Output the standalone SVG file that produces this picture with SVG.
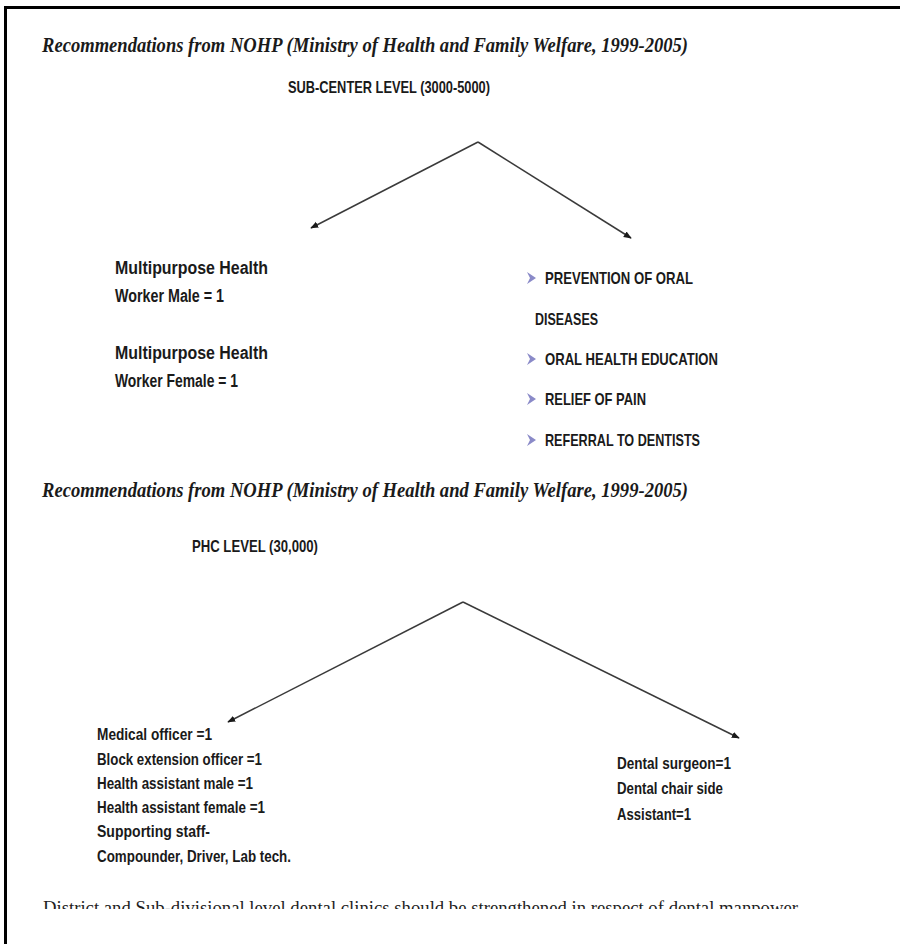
<svg xmlns="http://www.w3.org/2000/svg" width="900" height="944" viewBox="0 0 900 944">
  <style>
    .title { font-family: "Liberation Serif", "Times New Roman", serif; font-style: italic; font-weight: bold; font-size: 21px; fill: #1a1a1a; }
    .lbl { font-family: "Liberation Sans", Arial, sans-serif; font-weight: bold; font-size: 16.5px; fill: #1a1a1a; }
    .big { font-size: 18px; }
    .body { font-family: "Liberation Serif", "Times New Roman", serif; font-size: 18px; fill: #1e1e1e; }
    .conn { stroke: #3a3a3a; stroke-width: 1.5; fill: none; marker-end: url(#tip); }
    .bullet { fill: #8a8ac8; }
  </style>
  <defs>
    <marker id="tip" viewBox="0 0 10 10" refX="9" refY="5" markerWidth="8" markerHeight="8" orient="auto" markerUnits="userSpaceOnUse">
      <path d="M0,1 L10,5 L0,9 Z" fill="#1a1a1a"/>
    </marker>
    <path id="chev" d="M0,0 L9,6 L0,12 L3,6 Z"/>
    <clipPath id="pageClip">
      <rect x="0" y="0" width="900" height="909"/>
    </clipPath>
  </defs>

  <rect width="900" height="944" fill="#ffffff"/>

  <!-- page frame: top and left edges -->
  <path d="M5.5,944 L5.5,7.5 L900,7.5" stroke="#000" stroke-width="3" fill="none"/>

  <!-- sub-center section -->
  <g id="title-subcenter">
    <text class="title" x="42" y="52" textLength="646" lengthAdjust="spacingAndGlyphs">Recommendations from NOHP (Ministry of Health and Family Welfare, 1999-2005)</text>
  </g>
  <g id="node-subcenter">
    <text class="lbl" x="288" y="93" textLength="202" lengthAdjust="spacingAndGlyphs">SUB-CENTER LEVEL (3000-5000)</text>
  </g>
  <g id="node-mph-workers">
    <text class="lbl big" x="115" y="274" textLength="153" lengthAdjust="spacingAndGlyphs">Multipurpose Health</text>
    <text class="lbl big" x="115" y="302" textLength="109" lengthAdjust="spacingAndGlyphs">Worker Male = 1</text>
    <text class="lbl big" x="115" y="359" textLength="153" lengthAdjust="spacingAndGlyphs">Multipurpose Health</text>
    <text class="lbl big" x="115" y="387" textLength="123" lengthAdjust="spacingAndGlyphs">Worker Female = 1</text>
  </g>
  <g id="node-services">
    <use href="#chev" class="bullet" x="527" y="272"/>
    <text class="lbl" x="545" y="284" textLength="148" lengthAdjust="spacingAndGlyphs">PREVENTION OF ORAL</text>
    <text class="lbl" x="535" y="325" textLength="63" lengthAdjust="spacingAndGlyphs">DISEASES</text>
    <use href="#chev" class="bullet" x="527" y="353"/>
    <text class="lbl" x="545" y="365" textLength="173" lengthAdjust="spacingAndGlyphs">ORAL HEALTH EDUCATION</text>
    <use href="#chev" class="bullet" x="527" y="393"/>
    <text class="lbl" x="545" y="405" textLength="101" lengthAdjust="spacingAndGlyphs">RELIEF OF PAIN</text>
    <use href="#chev" class="bullet" x="527" y="434"/>
    <text class="lbl" x="545" y="446" textLength="155" lengthAdjust="spacingAndGlyphs">REFERRAL TO DENTISTS</text>
  </g>

  <!-- PHC section -->
  <g id="title-phc">
    <text class="title" x="42" y="497" textLength="646" lengthAdjust="spacingAndGlyphs">Recommendations from NOHP (Ministry of Health and Family Welfare, 1999-2005)</text>
  </g>
  <g id="node-phc">
    <text class="lbl" x="192" y="552" textLength="126" lengthAdjust="spacingAndGlyphs">PHC LEVEL (30,000)</text>
  </g>
  <g id="node-phc-staff">
    <text class="lbl" x="97" y="740" textLength="115" lengthAdjust="spacingAndGlyphs">Medical officer =1</text>
    <text class="lbl" x="97" y="765" textLength="165" lengthAdjust="spacingAndGlyphs">Block extension officer =1</text>
    <text class="lbl" x="97" y="789" textLength="156" lengthAdjust="spacingAndGlyphs">Health assistant male =1</text>
    <text class="lbl" x="97" y="813" textLength="168" lengthAdjust="spacingAndGlyphs">Health assistant female =1</text>
    <text class="lbl" x="97" y="837" textLength="113" lengthAdjust="spacingAndGlyphs">Supporting staff-</text>
    <text class="lbl" x="97" y="862" textLength="194" lengthAdjust="spacingAndGlyphs">Compounder, Driver, Lab tech.</text>
  </g>
  <g id="node-dental-staff">
    <text class="lbl" x="617" y="769" textLength="114" lengthAdjust="spacingAndGlyphs">Dental surgeon=1</text>
    <text class="lbl" x="617" y="794" textLength="106" lengthAdjust="spacingAndGlyphs">Dental chair side</text>
    <text class="lbl" x="617" y="820" textLength="74" lengthAdjust="spacingAndGlyphs">Assistant=1</text>
  </g>

  <!-- closing line, cut at the lower edge of the page -->
  <g id="footer-note" clip-path="url(#pageClip)">
    <text class="body" x="43" y="914" textLength="755" lengthAdjust="spacingAndGlyphs">District and Sub-divisional level dental clinics should be strengthened in respect of dental manpower</text>
  </g>

  <!-- connectors -->
  <g id="connectors">
    <path class="conn" d="M478,142 L311,228"/>
    <path class="conn" d="M478,142 L631,238"/>
    <path class="conn" d="M463,602 L228,722"/>
    <path class="conn" d="M463,602 L739,738"/>
  </g>
</svg>
